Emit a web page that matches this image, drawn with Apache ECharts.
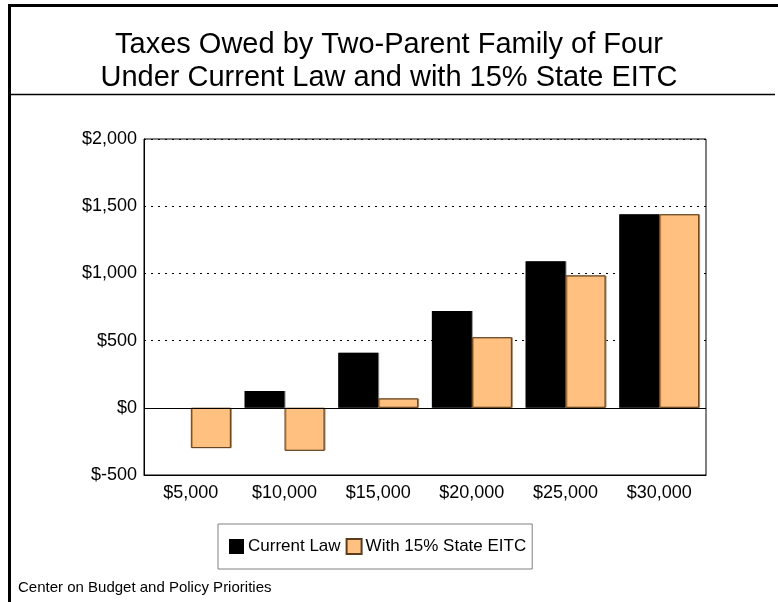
<!DOCTYPE html>
<html>
<head>
<meta charset="utf-8">
<title>Taxes Owed by Two-Parent Family of Four</title>
<script src="https://cdn.jsdelivr.net/npm/echarts@6/dist/echarts.min.js"></script>
<style>
  html, body { margin: 0; padding: 0; background: #fff; }
  #chart { width: 778px; height: 602px; }
</style>
</head>
<body>
<div id="chart"></div>
<script>
// Family income levels
const categories = ['$5,000', '$10,000', '$15,000', '$20,000', '$25,000', '$30,000'];
// Taxes owed (dollars) under current law
const currentLaw = [0, 125, 410, 720, 1090, 1440];
// Taxes owed (dollars) with a 15% state EITC
const stateEitc = [-300, -320, 70, 525, 985, 1440];
// Value axis range and step
const yMin = -500;
const yMax = 2000;
const yStep = 500;

const FONT = '"Liberation Sans", Arial, Helvetica, sans-serif';

const chart = echarts.init(document.getElementById('chart'), null, { renderer: 'canvas' });

function money(v) {
  return '$' + v.toLocaleString('en-US');
}

chart.setOption({
  animation: false,
  backgroundColor: '#fff',
  title: {
    text: 'Taxes Owed by Two-Parent Family of Four\nUnder Current Law and with 15% State EITC',
    left: 'center',
    top: 23,
    textStyle: {
      fontFamily: FONT,
      fontSize: 29,
      fontWeight: 'normal',
      color: '#000',
      lineHeight: 33
    }
  },
  legend: {
    left: 218,
    top: 524,
    orient: 'horizontal',
    icon: 'rect',
    itemWidth: 15,
    itemHeight: 15,
    itemGap: 5,
    padding: [14, 6, 14, 11],
    borderColor: '#808080',
    borderWidth: 1,
    textStyle: { fontFamily: FONT, fontSize: 17, color: '#000', padding: [0, 0, 0, -1] },
    data: ['Current Law', 'With 15% State EITC']
  },
  grid: {
    left: 144,
    right: 72,
    top: 139,
    bottom: 127,
    show: true,
    borderColor: '#000',
    borderWidth: 1,
    backgroundColor: 'transparent'
  },
  xAxis: {
    type: 'category',
    data: categories,
    axisLine: { show: true, onZero: false, lineStyle: { color: '#000', width: 1 } },
    axisTick: { show: false },
    axisLabel: { fontFamily: FONT, fontSize: 18, color: '#000', margin: 9 },
    splitLine: { show: false }
  },
  yAxis: {
    type: 'value',
    min: yMin,
    max: yMax,
    interval: yStep,
    axisLine: { show: true, lineStyle: { color: '#000', width: 1 } },
    axisTick: { show: false },
    axisLabel: { fontFamily: FONT, fontSize: 18, color: '#000', margin: 7, formatter: money },
    splitLine: { show: true, lineStyle: { color: '#000', width: 1, type: [2, 5] } }
  },
  series: [
    {
      name: 'Current Law',
      type: 'bar',
      data: currentLaw,
      barWidth: 40,
      barGap: '0%',
      itemStyle: {
        color: '#000',
        borderColor: '#000',
        borderWidth: 0,
        shadowColor: '#8c8c8c',
        shadowOffsetX: 1,
        shadowOffsetY: 0,
        shadowBlur: 0
      },
      markLine: {
        silent: true,
        symbol: 'none',
        label: { show: false },
        lineStyle: { color: '#000', type: 'solid', width: 1 },
        data: [{ yAxis: 0 }]
      }
    },
    {
      name: 'With 15% State EITC',
      type: 'bar',
      data: stateEitc,
      barWidth: 40,
      barGap: '0%',
      itemStyle: {
        color: '#FFC080',
        borderColor: '#5a3c1e',
        borderWidth: 1,
        shadowColor: '#b8864e',
        shadowOffsetX: 1,
        shadowOffsetY: 0,
        shadowBlur: 0
      }
    }
  ],
  graphic: [
    // page frame: top and left rules
    { type: 'rect', shape: { x: 8, y: 4, width: 770, height: 3 }, style: { fill: '#000' }, silent: true },
    { type: 'rect', shape: { x: 8, y: 4, width: 3, height: 598 }, style: { fill: '#000' }, silent: true },
    // rule under the heading
    { type: 'line', shape: { x1: 11, y1: 94.5, x2: 775, y2: 94.5 }, style: { stroke: '#000', lineWidth: 1.5 }, silent: true },
    // source note
    {
      type: 'text',
      left: 18,
      top: 580,
      style: { text: 'Center on Budget and Policy Priorities', fontFamily: FONT, fontSize: 15, fill: '#000' },
      silent: true
    }
  ]
});
</script>
</body>
</html>
